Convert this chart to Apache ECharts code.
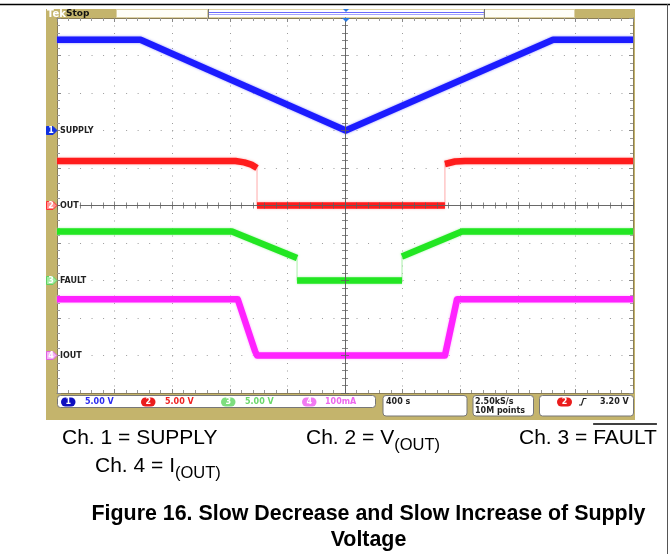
<!DOCTYPE html>
<html><head><meta charset="utf-8">
<script src="https://cdn.jsdelivr.net/npm/echarts@6/dist/echarts.min.js"></script>
<style>html,body{margin:0;padding:0;background:#fff}#c{width:670px;height:554px}</style>
</head><body><div id="c"></div>
<script>
// ---- scope settings ----
const timeMin = -2000, timeMax = 2000, timePerDiv = 400;   // 400 s/div, trigger at centre
const divMin = -5, divMax = 5;
const channelNames = ['SUPPLY', 'OUT', 'FAULT', 'IOUT'];
const channelScale = [5, 5, 5, 100];                 // units per division
const channelScaleLabels = ['5.00 V', '5.00 V', '5.00 V', '100mA'];
const channelPosition = [2, 0, -2, -4];              // ground marker, divisions
const channelColors = ['#1c1cff', '#ff1c1c', '#22e622', '#ff22ff'];
const channelEdgeColors = ['#9090ff', '#ffaaaa', '#a8f0a8', '#ffaaff'];

// ---- waveforms (time s, value in channel units) ----
const supplyTime = [-2000, -1420, 5, 1445, 2000];
const supplyVolts = [12.1, 12.1, 0, 12.1, 12.1];
const outTime = [-2000, -760, -700, -650, -611, -611, 694, 694, 764, 833, 2000];
const outVolts = [5.93, 5.93, 5.75, 5.45, 5.0, 0, 0, 5.53, 5.87, 5.93, 5.93];
const faultTime = [-2000, -785, -333, -333, 396, 396, 812, 2000];
const faultVolts = [6.53, 6.53, 3.0, 0, 0, 3.2, 6.53, 6.53];
const ioutTime = [-2000, -745, -625, -611, 694, 778, 2000];
const ioutMilliamps = [150, 150, 12, 0, 0, 150, 150];

const waveTimes = [supplyTime, outTime, faultTime, ioutTime];
const waveValues = [supplyVolts, outVolts, faultVolts, ioutMilliamps];

const series = [];
waveTimes.forEach(function (ts, c) {
  const thick = [], thin = [];
  for (let i = 0; i < ts.length; i++) {
    const d = channelPosition[c] + waveValues[c][i] / channelScale[c];
    if (i > 0 && ts[i] === ts[i - 1]) {
      const dPrev = channelPosition[c] + waveValues[c][i - 1] / channelScale[c];
      thick.push(['-', '-']);
      thin.push([ts[i - 1], dPrev], [ts[i], d], ['-', '-']);
    }
    thick.push([ts[i], d]);
  }
  series.push({
    type: 'line', name: channelNames[c], data: thick, showSymbol: false, symbol: 'none',
    xAxisIndex: 0, yAxisIndex: 0, z: 3, animation: false, connectNulls: false,
    lineStyle: { color: channelColors[c], width: 6.5, shadowBlur: 2.5, shadowColor: channelEdgeColors[c], join: 'round', cap: 'butt' }
  });
  if (thin.length) series.push({
    type: 'line', data: thin, showSymbol: false, symbol: 'none', xAxisIndex: 0, yAxisIndex: 0, z: 2,
    animation: false, lineStyle: { color: channelEdgeColors[c], width: 1 }
  });
});

const edgeColor = '#8a7d55';
const centreColor = 'rgba(95,95,95,0.75)';
function xAx(pos, onZero, inside, split, z) {
  return {
    type: 'value', min: timeMin, max: timeMax, interval: timePerDiv, position: pos,
    axisLine: { show: true, onZero: onZero, onZeroAxisIndex: 0, lineStyle: { color: onZero ? centreColor : edgeColor, width: 1 } },
    axisTick: { show: true, inside: inside, length: 4, lineStyle: { color: onZero ? centreColor : '#888' } },
    minorTick: { show: true, splitNumber: 5, length: 3, lineStyle: { color: onZero ? centreColor : '#999' } },
    axisLabel: { show: false },
    splitLine: { show: split, lineStyle: { color: '#9c9c9c', width: 1, type: [1, 6.5] } },
    minorSplitLine: { show: false }, z: z
  };
}
function yAx(pos, onZero, inside, split, z) {
  return {
    type: 'value', min: divMin, max: divMax, interval: 1, position: pos,
    axisLine: { show: true, onZero: onZero, onZeroAxisIndex: 0, lineStyle: { color: onZero ? centreColor : edgeColor, width: 1 } },
    axisTick: { show: true, inside: inside, length: 4, lineStyle: { color: onZero ? centreColor : '#888' } },
    minorTick: { show: true, splitNumber: 5, length: 3, lineStyle: { color: onZero ? centreColor : '#999' } },
    axisLabel: { show: false },
    splitLine: { show: split, lineStyle: { color: '#9c9c9c', width: 1, type: [1, 10.52] } },
    minorSplitLine: { show: false }, z: z
  };
}

// ---- decorations ----
const mctx = document.createElement('canvas').getContext('2d');
function tw(t, f) { mctx.font = f; return mctx.measureText(t).width; }
const tan = '#c4b46c';
const g = [];
g.push({ type: 'line', shape: { x1: 0, y1: 4.5, x2: 670, y2: 4.5 }, style: { stroke: '#000', lineWidth: 1.5 } });
g.push({ type: 'line', shape: { x1: 667.5, y1: 4, x2: 667.5, y2: 554 }, style: { stroke: '#555', lineWidth: 1 } });
// frame
g.push({ type: 'rect', shape: { x: 46, y: 9, width: 11, height: 411 }, style: { fill: tan } });
g.push({ type: 'rect', shape: { x: 46, y: 9, width: 589, height: 9 }, style: { fill: tan } });
g.push({ type: 'rect', shape: { x: 46, y: 393, width: 589, height: 27 }, style: { fill: tan } });
g.push({ type: 'rect', shape: { x: 633, y: 9, width: 2, height: 411 }, style: { fill: tan } });
// header
g.push({ type: 'rect', shape: { x: 116.5, y: 9.5, width: 91, height: 8 }, style: { fill: '#fffef6', stroke: '#ddd2a6', lineWidth: 1 } });
g.push({ type: 'rect', shape: { x: 208, y: 9.5, width: 276, height: 8 }, style: { fill: '#fff', stroke: '#ddd2a6', lineWidth: 1 } });
g.push({ type: 'rect', shape: { x: 484.5, y: 9.5, width: 90, height: 8 }, style: { fill: '#fffef6', stroke: '#ddd2a6', lineWidth: 1 } });
g.push({ type: 'line', shape: { x1: 208, y1: 12.5, x2: 484, y2: 12.5 }, style: { stroke: '#6a6aff', lineWidth: 1 } });
g.push({ type: 'line', shape: { x1: 208, y1: 14.5, x2: 484, y2: 14.5 }, style: { stroke: '#a4a4ff', lineWidth: 1 } });
g.push({ type: 'line', shape: { x1: 208.5, y1: 9, x2: 208.5, y2: 18 }, style: { stroke: '#777', lineWidth: 1 } });
g.push({ type: 'line', shape: { x1: 484.5, y1: 9, x2: 484.5, y2: 18 }, style: { stroke: '#777', lineWidth: 1 } });
g.push({ type: 'polygon', shape: { points: [[343, 9], [349, 9], [346, 12]] }, style: { fill: '#2a7ae0' } });
g.push({ type: 'polygon', shape: { points: [[342, 18], [350, 18], [346, 22]] }, style: { fill: '#2a7ae0' }, z: 10 });
g.push({ type: 'text', x: 47, y: 14, style: { text: 'Tek', fill: '#fff', font: 'bold 10px "DejaVu Sans"', verticalAlign: 'middle' } });
g.push({ type: 'text', x: 66, y: 13.5, style: { text: 'Stop', fill: '#111', font: 'bold 9px "DejaVu Sans"', verticalAlign: 'middle' } });

// channel ground markers + labels
const markerFill = ['#1030e0', '#ff9090', '#a0eca0', '#f4b4f4'];
const markerStroke = ['#1030e0', '#ff3030', '#60d060', '#e060e0'];
const labelFont = 'bold 8px "DejaVu Sans"';
channelPosition.forEach(function (p, c) {
  const y = 205.5 - p * 37.5;
  g.push({ type: 'polygon', shape: { points: [[46.5, y - 4], [53, y - 4], [57, y], [53, y + 4], [46.5, y + 4]] },
    style: { fill: markerFill[c], stroke: markerStroke[c], lineWidth: 1 }, z: 10 });
  g.push({ type: 'text', x: 51, y: y + 0.5, style: { text: String(c + 1), fill: '#fff', font: 'bold 8px "DejaVu Sans"', align: 'center', verticalAlign: 'middle' }, z: 11 });
  g.push({ type: 'text', x: 60, y: y + 0.5, style: { text: channelNames[c], fill: '#222', font: labelFont, verticalAlign: 'middle', backgroundColor: '#fff', padding: [0, 1, 0, 0] }, z: 11 });
});

// status bar
const sFont = 'bold 8px "DejaVu Sans"';
function box(x, w, h) {
  g.push({ type: 'rect', shape: { x: x + 0.5, y: 395.5, width: w, height: h, r: 3 }, style: { fill: '#fff', stroke: '#777', lineWidth: 1 }, z: 5 });
}
box(57, 318, 12); box(382.5, 84, 20.5); box(472.5, 60.5, 20.5); box(539, 94, 20.5);
const badgeX = [61, 141, 221, 302];
const textX = [85, 165, 245, 325];
const badgeFill = ['#1010c0', '#ea1c1c', '#7ede7e', '#f27af2'];
const scaleTextColor = ['#2a2af0', '#ee2222', '#6ad86a', '#ee66ee'];
badgeX.forEach(function (bx, c) {
  g.push({ type: 'rect', shape: { x: bx, y: 397.5, width: 14.5, height: 9, r: 4.5 }, style: { fill: badgeFill[c] }, z: 6 });
  g.push({ type: 'text', x: bx + 7.25, y: 402, style: { text: String(c + 1), fill: '#fff', font: sFont, align: 'center', verticalAlign: 'middle' }, z: 7 });
  g.push({ type: 'text', x: textX[c], y: 401.5, style: { text: channelScaleLabels[c], fill: scaleTextColor[c], font: sFont, verticalAlign: 'middle' }, z: 7 });
});
g.push({ type: 'text', x: 386, y: 401.5, style: { text: timePerDiv + ' s', fill: '#222', font: sFont, verticalAlign: 'middle' }, z: 7 });
g.push({ type: 'text', x: 475, y: 401.5, style: { text: '2.50kS/s', fill: '#222', font: sFont, verticalAlign: 'middle' }, z: 7 });
g.push({ type: 'text', x: 475, y: 411, style: { text: '10M points', fill: '#222', font: sFont, verticalAlign: 'middle' }, z: 7 });
g.push({ type: 'rect', shape: { x: 557, y: 397.5, width: 15, height: 9, r: 4.5 }, style: { fill: '#ea1c1c' }, z: 6 });
g.push({ type: 'text', x: 564.5, y: 402, style: { text: '2', fill: '#fff', font: sFont, align: 'center', verticalAlign: 'middle' }, z: 7 });
g.push({ type: 'polyline', shape: { points: [[579, 405], [581.5, 405], [583.5, 398.5], [586.5, 398.5]] }, style: { stroke: '#222', lineWidth: 1.2, fill: null }, z: 7 });
g.push({ type: 'text', x: 600, y: 401.5, style: { text: '3.20 V', fill: '#222', font: sFont, verticalAlign: 'middle' }, z: 7 });

// captions
const cf = '21px "Liberation Sans", Arial, sans-serif';
const sf = '16.5px "Liberation Sans", Arial, sans-serif';
function cap(x, y, t) { g.push({ type: 'text', x: x, y: y, style: { text: t, fill: '#000', font: cf, verticalAlign: 'middle' } }); }
function sub(x, y, t) { g.push({ type: 'text', x: x, y: y, style: { text: t, fill: '#000', font: sf, verticalAlign: 'middle' } }); }
cap(62, 438, 'Ch. 1 = SUPPLY');
cap(306, 438, 'Ch. 2 = V'); sub(306 + tw('Ch. 2 = V', cf), 445, '(OUT)');
cap(519, 438, 'Ch. 3 = FAULT');
const fx0 = 519 + tw('Ch. 3 = ', cf), fx1 = 519 + tw('Ch. 3 = FAULT', cf);
g.push({ type: 'line', shape: { x1: fx0, y1: 424, x2: fx1, y2: 424 }, style: { stroke: '#000', lineWidth: 1.5 } });
cap(95, 466, 'Ch. 4 = I'); sub(95 + tw('Ch. 4 = I', cf), 473, '(OUT)');
const tf = 'bold 21.4px "Liberation Sans", Arial, sans-serif';
g.push({ type: 'text', x: 368.5, y: 514, style: { text: 'Figure 16. Slow Decrease and Slow Increase of Supply', fill: '#000', font: tf, align: 'center', verticalAlign: 'middle' } });
g.push({ type: 'text', x: 368.5, y: 540, style: { text: 'Voltage', fill: '#000', font: tf, align: 'center', verticalAlign: 'middle' } });

const chart = echarts.init(document.getElementById('c'), null, { renderer: 'canvas' });
chart.setOption({
  animation: false,
  backgroundColor: '#fff',
  grid: { left: 57, right: 37, top: 18, bottom: 161, show: true, backgroundColor: '#fff', borderWidth: 0 },
  xAxis: [xAx('bottom', false, true, true, 0), xAx('top', false, true, false, 0),
          xAx('bottom', true, true, false, 6), xAx('bottom', true, false, false, 6)],
  yAxis: [yAx('left', false, true, true, 0), yAx('right', false, true, false, 0),
          yAx('left', true, true, false, 6), yAx('left', true, false, false, 6)],
  series: series,
  graphic: { elements: g }
});
</script></body></html>
